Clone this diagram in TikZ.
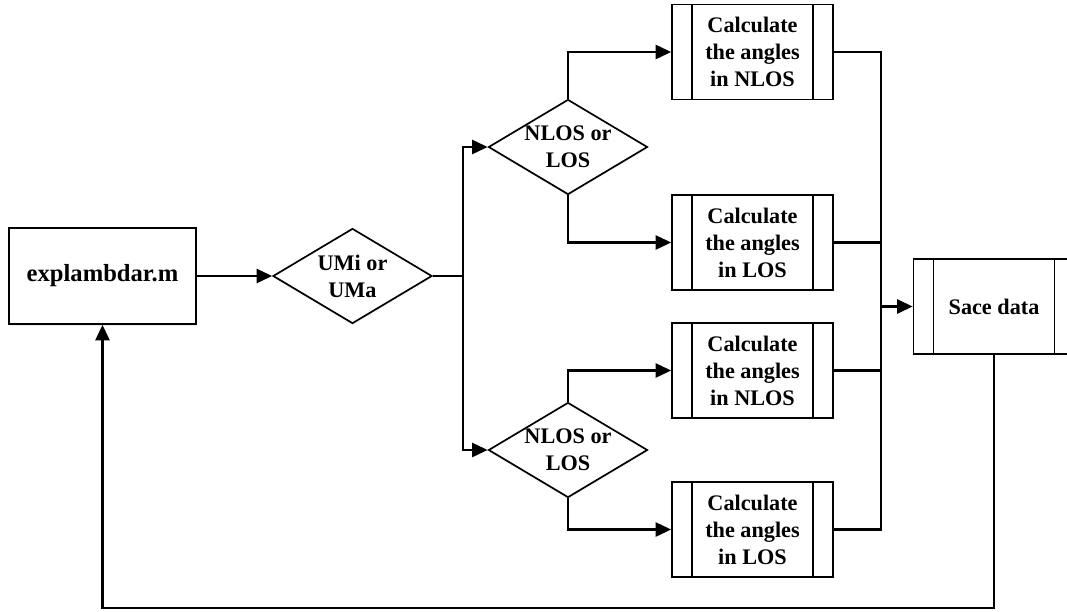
\documentclass[tikz,border=0pt]{standalone}
\usepackage{fontspec}
\setmainfont{Liberation Serif}
\usetikzlibrary{shapes.geometric,arrows.meta,shadows}

\tikzset{
  txt/.style={align=center, font=\fontsize{15.8}{19.2}\selectfont\bfseries},
  block/.style={draw, line width=1.2pt, fill=white, align=center,
    font=\fontsize{17.5}{21}\selectfont\bfseries,
    minimum width=4.675cm, minimum height=2.4cm,
    drop shadow={opacity=0.15, fill=blue!60, shadow xshift=0.6pt, shadow yshift=-1.2pt}},
  decision/.style={diamond, draw, line width=1.2pt, fill=white, inner sep=0pt,
    minimum width=3.975cm, minimum height=2.375cm,
    drop shadow={opacity=0.15, fill=blue!60, shadow xshift=0pt, shadow yshift=-1.2pt}},
  subproc/.style={draw, line width=1.2pt, fill=white, txt,
    minimum width=4.025cm, minimum height=2.375cm,
    path picture={
      \draw[line width=1.2pt]
        ([xshift=0.5cm]path picture bounding box.north west) -- ([xshift=0.5cm]path picture bounding box.south west)
        ([xshift=-0.5cm]path picture bounding box.north east) -- ([xshift=-0.5cm]path picture bounding box.south east);
    }},
  flow/.style={line width=1.6pt, -{Triangle[length=11pt,width=10pt]}},
}

\begin{document}
\begin{tikzpicture}[x=0.025cm, y=-0.025cm]
      \useasboundingbox (0,0) rectangle (1067,612);
      \draw
        (102.5,276) node[block] (expl){explambdar.m}
        (352.5,276) node[decision, label={[txt]center:{UMi or\\UMa}}] (env){}
        (568,147) node[decision, label={[txt]center:{NLOS or\\LOS}}] (losA){}
        (568,450) node[decision, label={[txt]center:{NLOS or\\LOS}}] (losB){}
        (752.5,52) node[subproc] (calcA1){Calculate\\the angles\\in NLOS}
        (752.5,242.5) node[subproc] (calcA2){Calculate\\the angles\\in LOS}
        (752.5,370.5) node[subproc] (calcB1){Calculate\\the angles\\in NLOS}
        (752.5,529.5) node[subproc] (calcB2){Calculate\\the angles\\in LOS}
        (994,306.5) node[subproc] (save){Sace data};
      \coordinate (split) at (463,276);
      \coordinate (join) at (881,306.5);
      \coordinate (back) at (102.5,608);
      \begin{scope}[flow]
        \draw (expl) to (env);
        \draw[-] (env.east) -- (split);
        \draw (split) |- (losA.west);
        \draw (split) |- (losB.west);
        \draw (losA.north) |- (calcA1.west);
        \draw (losA.south) |- (calcA2.west);
        \draw (losB.north) |- (calcB1.west);
        \draw (losB.south) |- (calcB2.west);
        \draw[-] (calcA1.east) -| (join);
        \draw[-] (calcA2.east) -| (join);
        \draw[-] (calcB1.east) -| (join);
        \draw[-] (calcB2.east) -| (join);
        \draw (join) -- (save.west);
        \draw (save.south) |- (back) -- (expl.south);
      \end{scope}
    \end{tikzpicture}
\end{document}
